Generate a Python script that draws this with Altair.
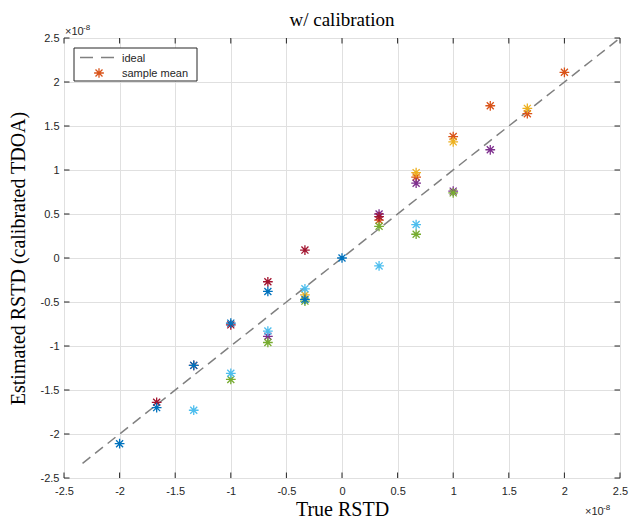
import altair as alt
import pandas as pd

# values in units of 1e-8 s
series_names = ["s2", "s3", "s4", "s5", "s6", "s7", "s1"]
series_colors = ["#D95319", "#EDB120", "#7E2F8E", "#77AC30", "#4DBEEE", "#A2142F", "#0072BD"]

s2_x = [1/3, 2/3, 1, 4/3, 5/3, 2]
s2_y = [0.43, 0.92, 1.38, 1.73, 1.64, 2.11]
s3_x = [-1/3, 2/3, 1, 5/3]
s3_y = [-0.42, 0.97, 1.32, 1.70]
s4_x = [-2/3, 1/3, 2/3, 1, 4/3]
s4_y = [-0.89, 0.50, 0.85, 0.76, 1.23]
s5_x = [-1, -2/3, -1/3, 1/3, 2/3, 1]
s5_y = [-1.38, -0.96, -0.49, 0.36, 0.27, 0.74]
s6_x = [-4/3, -1, -2/3, -1/3, 1/3, 2/3]
s6_y = [-1.73, -1.31, -0.83, -0.35, -0.09, 0.38]
s7_x = [-5/3, -4/3, -1, -2/3, -1/3, 1/3]
s7_y = [-1.64, -1.22, -0.76, -0.27, 0.09, 0.47]
s1_x = [-2, -5/3, -4/3, -1, -2/3, -1/3, 0]
s1_y = [-2.11, -1.70, -1.22, -0.74, -0.38, -0.47, 0.0]

ideal_x = [-7/3, 2.5]
tick_vals = [-2.5, -2, -1.5, -1, -0.5, 0, 0.5, 1, 1.5, 2, 2.5]

all_x = [s2_x, s3_x, s4_x, s5_x, s6_x, s7_x, s1_x]
all_y = [s2_y, s3_y, s4_y, s5_y, s6_y, s7_y, s1_y]
rows = []
k = 0
for name, xs_, ys_ in zip(series_names, all_x, all_y):
    for xv, yv in zip(xs_, ys_):
        rows.append({"x": xv, "y": yv, "s": name, "k": k})
        k += 1
pts = pd.DataFrame(rows)
ideal = pd.DataFrame({"x": ideal_x, "y": ideal_x})
ticks = pd.DataFrame({"t": tick_vals})

W, H = 556, 440
AX = "#262626"
LF = "Liberation Sans"
SF = "Liberation Serif"
ASTER = "M-1,0H1M0,-1V1M-0.72,-0.72L0.72,0.72M-0.72,0.72L0.72,-0.72"

xs = alt.Scale(domain=[-2.5, 2.5], nice=False, zero=False)
ys = alt.Scale(domain=[-2.5, 2.5], nice=False, zero=False)

x_axis = alt.Axis(
    values=tick_vals, title="True RSTD", labelExpr="toString(datum.value)",
    ticks=False, tickSize=0, domain=False, grid=True, gridColor="#e0e0e0",
    labelFont=LF, labelFontSize=11, labelColor=AX, labelPadding=7,
    titleFont=SF, titleFontSize=20, titleFontWeight="normal", titleColor="#000000",
    titlePadding=3, labelFlush=False)
y_axis = alt.Axis(
    values=tick_vals, title="Estimated RSTD (calibrated TDOA)", labelExpr="toString(datum.value)",
    ticks=False, tickSize=0, domain=False, grid=True, gridColor="#e0e0e0",
    labelFont=LF, labelFontSize=11, labelColor=AX, labelPadding=5,
    titleFont=SF, titleFontSize=20, titleFontWeight="normal", titleColor="#000000",
    titlePadding=12, labelFlush=False)

def X(f):
    return alt.X(f, scale=xs, axis=x_axis)

def Y(f):
    return alt.Y(f, scale=ys, axis=y_axis)

line = alt.Chart(ideal).mark_line(
    color="#808080", strokeDash=[10, 6], strokeWidth=1.5, clip=True
).encode(x=X("x:Q"), y=Y("y:Q"))

points = alt.Chart(pts).mark_point(
    shape=ASTER, filled=False, size=95, strokeWidth=1.3, opacity=1, clip=True
).encode(
    x=X("x:Q"), y=Y("y:Q"),
    color=alt.Color("s:N", scale=alt.Scale(domain=series_names, range=series_colors), legend=None),
    order=alt.Order("k:Q"),
)

tb = alt.Chart(ticks).mark_rule(color=AX, strokeWidth=1).encode(
    x=X("t:Q"), y=alt.value(H), y2=alt.value(H - 5.5))
tt = alt.Chart(ticks).mark_rule(color=AX, strokeWidth=1).encode(
    x=X("t:Q"), y=alt.value(0), y2=alt.value(5.5))
tl = alt.Chart(ticks).mark_rule(color=AX, strokeWidth=1).encode(
    y=Y("t:Q"), x=alt.value(0), x2=alt.value(5.5))
tr = alt.Chart(ticks).mark_rule(color=AX, strokeWidth=1).encode(
    y=Y("t:Q"), x=alt.value(W), x2=alt.value(W - 5.5))

def one():
    return alt.Chart(ticks).transform_filter("datum.t == 0")

def txt(s, x, y, size, align="left", font=LF, color=AX):
    return one().mark_text(
        text=s, font=font, fontSize=size, align=align, baseline="alphabetic", color=color
    ).encode(x=alt.value(x), y=alt.value(y))

title = txt("w/ calibration", W / 2, -12, 19, align="center", font=SF, color="#000000")

# exponent labels
exp1 = txt("\u00d710", 1, -3, 11)
exp1b = txt("-8", 19, -8, 8)
exp2 = txt("\u00d710", 521, 477, 11)
exp2b = txt("-8", 539, 472, 8)

# legend
leg_box = one().mark_rect(
    fill="white", stroke=AX, strokeWidth=1
).encode(x=alt.value(10), x2=alt.value(133), y=alt.value(10), y2=alt.value(43))
leg_line = one().mark_rule(
    color="#808080", strokeDash=[13, 8], strokeWidth=1.5
).encode(x=alt.value(16), x2=alt.value(50), y=alt.value(19.5))
leg_pt = one().mark_point(
    shape=ASTER, filled=False, size=95, strokeWidth=1.3, color="#D95319", opacity=1
).encode(x=alt.value(35), y=alt.value(35))
leg_t1 = txt("ideal", 58, 23.5, 11)
leg_t2 = txt("sample mean", 58, 39, 11)

chart = alt.layer(
    line, tb, tt, tl, tr, points, title, exp1, exp1b, exp2, exp2b,
    leg_box, leg_line, leg_pt, leg_t1, leg_t2
).properties(
    width=W, height=H,
    autosize=alt.AutoSizeParams(type="none"),
    padding={"left": 64, "top": 38, "right": 9, "bottom": 44},
).configure_view(stroke=AX, strokeWidth=1).configure(background="white")

chart.save("out.html", embed_options={"renderer": "svg", "actions": False})
